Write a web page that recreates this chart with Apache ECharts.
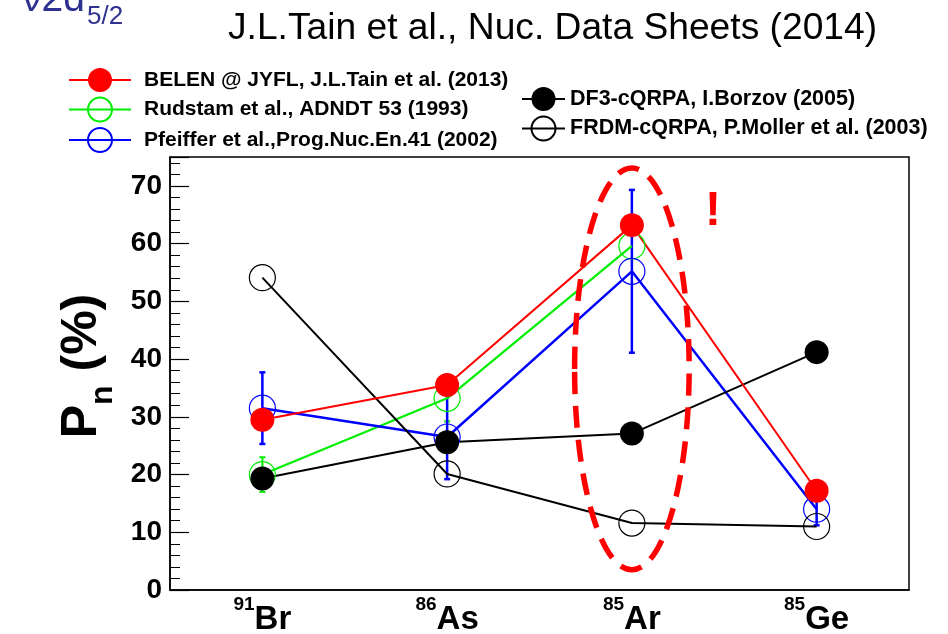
<!DOCTYPE html>
<html>
<head>
<meta charset="utf-8">
<title>Pn</title>
<script src="https://cdn.jsdelivr.net/npm/echarts@6/dist/echarts.min.js"></script>
<style>
  html, body { margin: 0; padding: 0; background: #fff; }
  #main { width: 948px; height: 634px; }
</style>
</head>
<body>
<div id="main"></div>
<script>
// 核素 (x 轴)
var nuclei = ['91Br', '86As', '85Ar', '85Ge'];
var massNum = ['91', '86', '85', '85'];
var element = ['Br', 'As', 'Ar', 'Ge'];

// Pn (%) 各组数据
var belen = [29.5, 35.5, 63.2, 17.2];
var rudstam = [20.0, 33.2, 59.6, null];
var rudstamErr = [3.0, 4.0, 0, null];
var pfeiffer = [31.5, 26.5, 55.2, 14.0];
var pfeifferErr = [6.2, 7.3, 14.1, 2.8];
var df3 = [19.3, 25.6, 27.1, 41.2];
var frdm = [54.1, 20.1, 11.6, 11.0];

// y 轴刻度
var yTicks = [0, 10, 20, 30, 40, 50, 60, 70];

// 图例名称
var leftNames = ['BELEN @ JYFL, J.L.Tain et al. (2013)', 'Rudstam et al., ADNDT 53 (1993)', 'Pfeiffer et al.,Prog.Nuc.En.41 (2002)'];
var rightNames = ['DF3-cQRPA, I.Borzov (2005)', 'FRDM-cQRPA, P.Moller et al. (2003)'];

var FONT = '"Liberation Sans", Arial, Helvetica, sans-serif';

var myChart = echarts.init(document.getElementById('main'));

// 误差棒
function errSeries(vals, errs, color, width) {
  var data = [];
  vals.forEach(function (v, i) {
    if (v != null && errs[i]) data.push([i, v, errs[i]]);
  });
  return {
    type: 'custom',
    silent: true,
    renderItem: function (params, api) {
      var i = api.value(0), v = api.value(1), e = api.value(2);
      var top = api.coord([i, v + e]);
      var bot = api.coord([i, v - e]);
      var st = { stroke: color, lineWidth: width };
      return {
        type: 'group',
        children: [
          { type: 'line', shape: { x1: top[0], y1: top[1], x2: bot[0], y2: bot[1] }, style: st },
          { type: 'line', shape: { x1: top[0] - 3, y1: top[1], x2: top[0] + 3, y2: top[1] }, style: st },
          { type: 'line', shape: { x1: bot[0] - 3, y1: bot[1], x2: bot[0] + 3, y2: bot[1] }, style: st }
        ]
      };
    },
    data: data
  };
}

function lineSeries(name, vals, color, lw, filled, size) {
  return {
    name: name,
    type: 'line',
    data: vals,
    symbol: 'circle',
    symbolSize: size,
    lineStyle: { color: color, width: lw },
    itemStyle: filled
      ? { color: color }
      : { color: 'rgba(0,0,0,0)', borderColor: color, borderWidth: 1.2 },
    emphasis: { disabled: true }
  };
}

function legendText(size, pad) {
  return {
    fontFamily: FONT,
    fontWeight: 'bold',
    fontSize: size,
    color: '#000',
    padding: [0, 0, 0, pad]
  };
}

var option = {
  animation: false,
  title: {
    text: 'J.L.Tain et al., Nuc. Data Sheets (2014)',
    left: 228,
    top: 10,
    padding: 0,
    textStyle: { fontFamily: FONT, fontWeight: 'normal', fontSize: 37.2, color: '#000' }
  },
  legend: [{
    data: leftNames,
    orient: 'vertical',
    left: 68,
    top: 68,
    padding: 0,
    itemWidth: 62,
    itemHeight: 30,
    itemGap: 4.5,
    selectedMode: false,
    textStyle: legendText(21, 8)
  }, {
    data: rightNames,
    orient: 'vertical',
    left: 521,
    top: 87,
    padding: 0,
    itemWidth: 43,
    itemHeight: 30,
    itemGap: 4.5,
    selectedMode: false,
    textStyle: legendText(21.5, 0)
  }],
  grid: {
    left: 170,
    right: 39,
    top: 157,
    bottom: 44,
    outerBoundsMode: 'none',
    containLabel: false,
    show: true,
    borderColor: '#000',
    borderWidth: 1.5
  },
  xAxis: {
    type: 'category',
    data: nuclei,
    boundaryGap: true,
    axisLine: { lineStyle: { color: '#000', width: 1.5 } },
    axisTick: { alignWithLabel: true, inside: true, length: 17, lineStyle: { color: '#000', width: 1.2 } },
    axisLabel: {
      margin: 5,
      formatter: function (v, i) {
        return '{s|' + massNum[i] + '}{e|' + element[i] + '}';
      },
      rich: {
        s: { fontFamily: FONT, fontWeight: 'bold', fontSize: 19, color: '#000', verticalAlign: 'top', lineHeight: 20 },
        e: { fontFamily: FONT, fontWeight: 'bold', fontSize: 33, color: '#000', lineHeight: 50 }
      }
    },
    splitLine: { show: false }
  },
  yAxis: {
    type: 'value',
    min: 0,
    max: 75,
    interval: 10,
    axisLine: { show: true, lineStyle: { color: '#000', width: 1.5 } },
    axisTick: { show: true, inside: true, length: 19, lineStyle: { color: '#000', width: 1.2 } },
    minorTick: { show: true, splitNumber: 5, length: 10, lineStyle: { color: '#000', width: 1 } },
    splitLine: { show: false },
    axisLabel: {
      margin: 8,
      fontFamily: FONT,
      fontWeight: 'bold',
      fontSize: 28,
      color: '#000',
      formatter: function (v) { return yTicks.indexOf(v) >= 0 ? String(v) : ''; }
    }
  },
  graphic: [{
    id: 'orbital',
    type: 'text',
    x: 22,
    y: -19,
    style: { text: 'ν2d', fontFamily: FONT, fontSize: 39, fill: '#2e3190', verticalAlign: 'top' }
  }, {
    id: 'orbitalSub',
    type: 'text',
    x: 87,
    y: 4,
    style: { text: '5/2', fontFamily: FONT, fontSize: 26, fill: '#2e3190', verticalAlign: 'top' }
  }, {
    id: 'ylabel',
    type: 'text',
    x: 88,
    y: 366,
    rotation: Math.PI / 2,
    style: {
      text: '{p|P}{n|n}{p| (%)}',
      align: 'center',
      verticalAlign: 'middle',
      rich: {
        p: { fontFamily: FONT, fontWeight: 'bold', fontSize: 50, fill: '#000', lineHeight: 50, verticalAlign: 'top' },
        n: { fontFamily: FONT, fontWeight: 'bold', fontSize: 32, fill: '#000', lineHeight: 62, verticalAlign: 'bottom' }
      }
    }
  }, {
    id: 'bang',
    type: 'text',
    x: 713,
    y: 212,
    style: {
      text: '!',
      align: 'center',
      verticalAlign: 'middle',
      fontFamily: FONT,
      fontWeight: 'bold',
      fontSize: 48,
      fill: '#ff0000'
    }
  }],
  series: [
    lineSeries(leftNames[1], rudstam, '#00ee00', 2.2, false, 26),
    errSeries(rudstam, rudstamErr, '#00ee00', 2),
    lineSeries(leftNames[2], pfeiffer, '#0000ff', 2.5, false, 26),
    errSeries(pfeiffer, pfeifferErr, '#0000ff', 2.5),
    lineSeries(rightNames[1], frdm, '#000000', 2, false, 26),
    lineSeries(rightNames[0], df3, '#000000', 2, true, 24),
    lineSeries(leftNames[0], belen, '#ff0000', 2, true, 24)
  ]
};

myChart.setOption(option);

// 红色虚线椭圆 (围住 85Ar)
var ring = { cat: 2, yMid: 38.3, yHalf: 34.8, xHalf: 0.31 };
var pc = myChart.convertToPixel({ gridIndex: 0 }, [nuclei[ring.cat], ring.yMid]);
var pt = myChart.convertToPixel({ gridIndex: 0 }, [nuclei[ring.cat], ring.yMid + ring.yHalf]);
var pn = myChart.convertToPixel({ gridIndex: 0 }, [nuclei[ring.cat + 1], ring.yMid]);
myChart.setOption({
  graphic: [{
    id: 'ring',
    type: 'ellipse',
    z: 100,
    silent: true,
    shape: { cx: pc[0], cy: pc[1], rx: (pn[0] - pc[0]) * ring.xHalf, ry: pc[1] - pt[1] },
    style: { fill: 'none', stroke: '#ff0000', lineWidth: 5.5, lineDash: [22, 12] }
  }]
});
</script>
</body>
</html>
